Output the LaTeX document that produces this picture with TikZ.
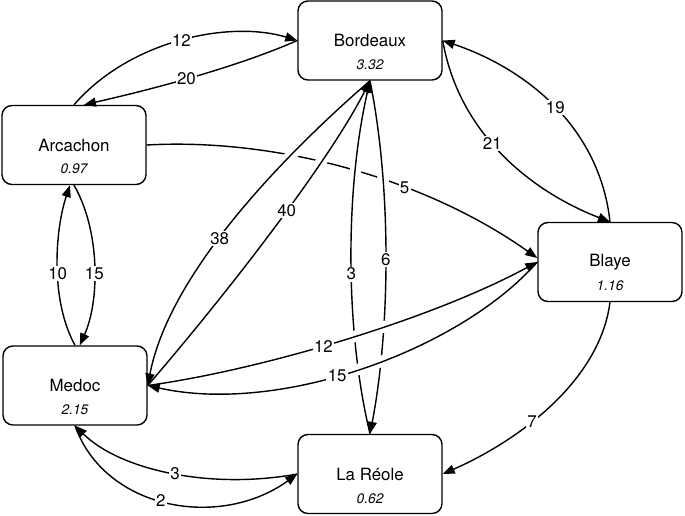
\documentclass[tikz,border=0pt]{standalone}
\usepackage{fontspec}
\setmainfont{TeX Gyre Heros}
\usetikzlibrary{arrows.meta}

\begin{document}
\begin{tikzpicture}[x=0.025cm, y=-0.025cm,
  town/.style={draw, rectangle, rounded corners=0.25cm, line width=1pt, minimum width=3.6cm, minimum height=1.975cm, font=\fontsize{12}{14}\selectfont},
  val/.style={anchor=center, label distance=-0.4cm, font=\fontsize{9.8}{11}\selectfont\itshape},
  flow/.style={line width=1pt, -{Triangle[length=8.5pt,width=6.5pt]}},
  num/.style={fill=white, inner sep=1pt, font=\fontsize{12}{14}\selectfont},
  gap/.style={draw=white, line width=8pt}]
\useasboundingbox (0,0) rectangle (685,515);

\node (bdx) [town, label={[val]below:3.32}] at (370,40.5) {Bordeaux};
\node (arc) [town, label={[val]below:0.97}] at (74,145) {Arcachon};
\node (bly) [town, label={[val]below:1.16}] at (610,262) {Blaye};
\node (med) [town, label={[val]below:2.15}] at (75,385.5) {Medoc};
\node (lar) [town, label={[val]below:0.62}] at (370,474) {La Réole};

% Arcachon and Bordeaux
\draw[flow] (arc.north) .. controls (130,40) and (230,20) .. (bdx.west) node[num, pos=0.5] {12};
\draw[flow] (bdx.west) .. controls (230,70) and (140,92) .. ([xshift=0.25cm]arc.north) node[num, pos=0.5] {20};
\draw[flow] (arc.east) .. controls (270,138) and (420,175) .. ([yshift=0.1cm]bly.west) node[num, pos=0.65] {5};

% gaps where the long lines cross 5
\begin{scope}
\clip (250,135) rectangle (400,195);
\draw[gap] (bdx.south) .. controls (290,150) and (170,270) .. (med.east);
\draw[gap] (med.east) .. controls (230,290) and (330,160) .. (bdx.south);
\draw[gap] (lar.north) .. controls (345,330) and (345,190) .. (bdx.south);
\draw[gap] (bdx.south) .. controls (392,190) and (390,330) .. (lar.north);
\end{scope}

\draw[flow] (bdx.south) .. controls (290,150) and (170,270) .. (med.east) node[num, pos=0.57] {38};
\draw[flow] (med.east) .. controls (230,290) and (330,160) .. (bdx.south) node[num, pos=0.55] {40};
\draw[flow] (lar.north) .. controls (345,330) and (345,190) .. (bdx.south) node[num, pos=0.46] {3};
\draw[flow] (bdx.south) .. controls (392,190) and (390,330) .. (lar.north) node[num, pos=0.5] {6};

% gaps where Medoc--Blaye cross 3 and 6
\begin{scope}
\clip (340,320) rectangle (395,385);
\draw[gap] (med.east) .. controls (260,370) and (430,320) .. (bly.west);
\draw[gap] (bly.west) .. controls (460,350) and (280,415) .. (med.east);
\end{scope}

\draw[flow] (med.east) .. controls (260,370) and (430,320) .. (bly.west) node[num, pos=0.45] {12};
\draw[flow] (bly.west) .. controls (460,350) and (280,415) .. (med.east) node[num, pos=0.56] {15};

% Blaye
\draw[flow] (bly.north) .. controls (600,130) and (530,70) .. (bdx.east) node[num, pos=0.5] {19};
\draw[flow] (bdx.east) .. controls (460,140) and (540,195) .. (bly.north) node[num, pos=0.42] {21};
\draw[flow] (bly.south) .. controls (600,380) and (520,440) .. (lar.east) node[num, pos=0.6] {7};

% Medoc
\draw[flow] (med.north) .. controls (50,300) and (55,230) .. ([xshift=-0.1cm]arc.south) node[num, pos=0.45] {10};
\draw[flow] (arc.south) .. controls (100,230) and (100,300) .. ([xshift=0.12cm]med.north) node[num, pos=0.55] {15};
\draw[flow] (lar.west) .. controls (210,490) and (120,470) .. (med.south) node[num, pos=0.48] {3};
\draw[flow] (med.south) .. controls (105,510) and (220,530) .. (lar.west) node[num, pos=0.47] {2};
\end{tikzpicture}
\end{document}
